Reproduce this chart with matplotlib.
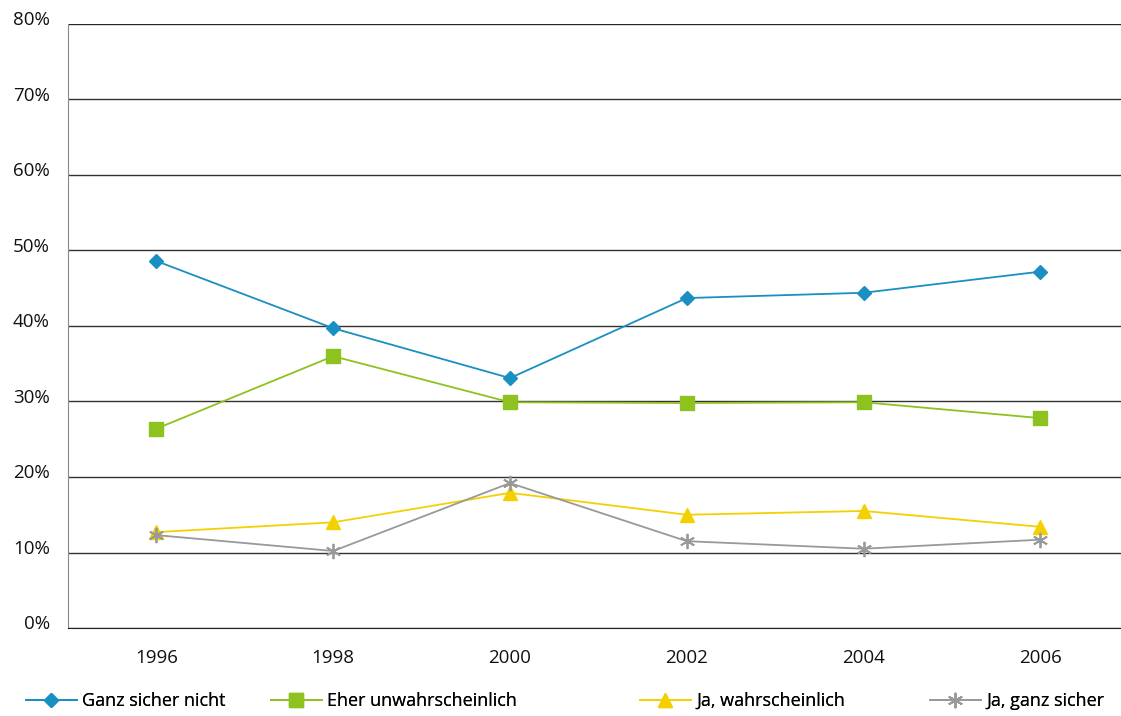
import matplotlib.pyplot as plt
import matplotlib.transforms as mtransforms
from matplotlib.ticker import FuncFormatter

plt.rcParams['font.family'] = ['Open Sans', 'DejaVu Sans']

# Daten
jahre = ['1996', '1998', '2000', '2002', '2004', '2006']
ganz_sicher_nicht = [48.6, 39.7, 33.1, 43.7, 44.4, 47.2]
eher_unwahrscheinlich = [26.4, 36.0, 29.9, 29.8, 29.9, 27.8]
ja_wahrscheinlich = [12.7, 14.0, 17.9, 15.0, 15.5, 13.4]
ja_ganz_sicher = [12.3, 10.2, 19.2, 11.5, 10.5, 11.7]

fig = plt.figure(figsize=(11.21, 7.16), dpi=100)
ax = fig.add_axes([0.0607, 0.1229, 0.9462, 0.8436])

x = range(len(jahre))
l1, = ax.plot(x, ganz_sicher_nicht, color='#1a8fc2', marker='D', markersize=7,
              linewidth=1.3, label='Ganz sicher nicht')
l2, = ax.plot(x, eher_unwahrscheinlich, color='#8dc21f', marker='s', markersize=10,
              linewidth=1.3, label='Eher unwahrscheinlich')
l3, = ax.plot(x, ja_wahrscheinlich, color='#f5d000', marker='^', markersize=10,
              linewidth=1.3, label='Ja, wahrscheinlich')
l4, = ax.plot(x, ja_ganz_sicher, color='#999999', marker=(6, 2, 0), markersize=11,
              markeredgewidth=1.3, linewidth=1.3, label='Ja, ganz sicher')

ax.set_xlim(-0.5, 5.5)
ax.set_ylim(0, 80)
ax.set_xticks(list(x))
ax.set_xticklabels(jahre)
ax.set_yticks(range(0, 81, 10))
ax.yaxis.set_major_formatter(FuncFormatter(lambda v, p: '%d%%' % v))
ax.tick_params(length=0, labelsize=13.5, colors='#111111')
ax.tick_params(axis='x', pad=15)
ax.tick_params(axis='y', pad=13)
# y-Beschriftung etwas über die Gitterlinie schieben
versatz = mtransforms.ScaledTranslation(0, 4 / 72, fig.dpi_scale_trans)
for t in ax.get_yticklabels():
    t.set_transform(t.get_transform() + versatz)

ax.grid(axis='y', color='#333333', linewidth=1)
ax.set_axisbelow(True)
ax.spines['right'].set_visible(False)
ax.spines['top'].set_visible(False)
ax.spines['left'].set_color('#888888')
ax.spines['bottom'].set_color('#222222')
ax.axhline(80, color='#222222', linewidth=1.2)

# Legende: Einträge einzeln platzieren
leg_x = [26, 271, 640, 930]
for h, lx in zip([l1, l2, l3, l4], leg_x):
    lg = fig.legend(handles=[h], loc='center left', bbox_to_anchor=(lx / 1121, 1 - 701 / 716),
                    frameon=False, fontsize=13, handlelength=2.8, handletextpad=0.3,
                    borderpad=0, borderaxespad=0)
    fig.add_artist(lg)

fig.savefig('out.png', dpi=100)
